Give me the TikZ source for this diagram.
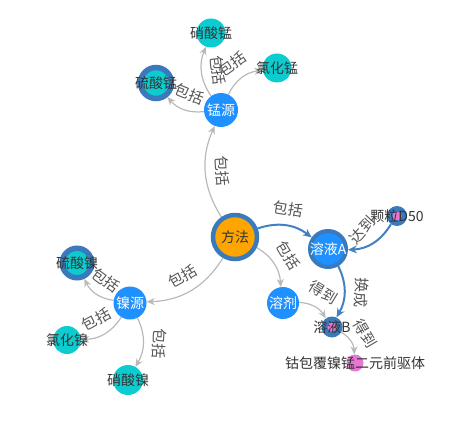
\documentclass[tikz,border=0pt]{standalone}
\usepackage{fontspec}
\setmainfont{Noto Sans CJK SC}
\usetikzlibrary{arrows.meta,backgrounds}
\definecolor{ringBlue}{RGB}{58,122,188}
\definecolor{nodeBlue}{RGB}{30,144,255}
\definecolor{nodeTeal}{RGB}{12,204,208}
\definecolor{nodePink}{RGB}{232,118,212}
\definecolor{nodeOrange}{RGB}{255,165,0}
\definecolor{edgeGray}{RGB}{185,185,185}
\definecolor{edgeBlue}{RGB}{66,128,194}
\definecolor{labelGray}{RGB}{85,85,85}

\begin{document}
\begin{tikzpicture}[x=1pt,y=1pt,
    txt/.style={font=\fontsize{14}{16}\selectfont,inner sep=0pt},
    wtext/.style={txt,text=white},
    dtext/.style={txt,text=black!80},
    bluedot/.style={circle,fill=nodeBlue,inner sep=0pt,minimum size=#1},
    tealdot/.style={circle,fill=nodeTeal,inner sep=0pt,minimum size=#1},
    pinkdot/.style={circle,fill=nodePink,inner sep=0pt,minimum size=#1},
    ringteal/.style={circle,fill=nodeTeal,draw=ringBlue,line width=5.5pt,inner sep=0pt,minimum size=#1},
    smalldot/.style={circle,fill=ringBlue,inner sep=0pt,minimum size=20pt,
      path picture={\fill[nodePink] (path picture bounding box.center) circle (4.5pt);}},
    hubnode/.style={circle,fill=nodeOrange,draw=ringBlue,line width=4.5pt,inner sep=0pt,minimum size=44pt},
    solnode/.style={circle,fill=nodeBlue,draw=ringBlue,line width=4pt,inner sep=0pt,minimum size=36pt},
    gedge/.style={edgeGray,line width=1.2pt,-{Stealth[length=8pt,width=7pt,inset=2.5pt]}},
    bedge/.style={edgeBlue,line width=2pt,-{Stealth[length=9pt,width=8pt,inset=3pt]}},
    elabel/.style={font=\fontsize{15}{17}\selectfont,inner sep=0pt,text=labelGray,midway,sloped,above=9pt}]
  \useasboundingbox (0,0) rectangle (462,-422);
  % centre
  \node[hubnode,label={[dtext]center:方法}] (method) at (235,-237) {};
  % manganese source
  \node[bluedot=34pt,label={[wtext]center:锰源}] (mnSrc) at (221,-110) {};
  \node[tealdot=29pt,label={[dtext]center:硝酸锰}] (mnNitrate) at (211,-33) {};
  \node[tealdot=29pt,label={[dtext]center:氯化锰}] (mnChloride) at (277,-68) {};
  \node[ringteal=31pt,label={[dtext]center:硫酸锰}] (mnSulfate) at (156,-83) {};
  % nickel source
  \node[bluedot=33pt,label={[wtext]center:镍源}] (niSrc) at (130,-303) {};
  \node[ringteal=29.5pt,label={[dtext]center:硫酸镍}] (niSulfate) at (77,-263) {};
  \node[tealdot=28pt,label={[dtext]center:氯化镍}] (niChloride) at (67,-340) {};
  \node[tealdot=30pt,label={[dtext]center:硝酸镍}] (niNitrate) at (128,-380) {};
  % solutions
  \node[solnode,label={[wtext]center:溶液A}] (solA) at (328,-249) {};
  \node[smalldot,label={[dtext]center:颗粒D50}] (d50) at (397,-216) {};
  \node[bluedot=32pt,label={[wtext]center:溶剂}] (solvent) at (283,-303) {};
  \node[smalldot,minimum size=21pt,label={[dtext]center:溶液B}] (solB) at (332,-327) {};
  \node[pinkdot=17pt,label={[dtext]center:钴包覆镍锰二元前驱体}] (product) at (355,-363) {};

  \begin{scope}[on background layer]
    \draw[gedge] (method) to[bend left=28] node[elabel] {包括} (mnSrc);
    \draw[gedge] (method) to[bend left=28] node[elabel] {包括} (niSrc);
    \draw[gedge] (method) to[bend left=28] node[elabel] {包括} (solvent);
    \draw[bedge] (method) to[bend left=28] node[elabel] {包括} (solA);
    \draw[gedge] (mnSrc) to[bend left=28] node[elabel] {包括} (mnSulfate);
    \draw[gedge] (mnSrc) to[bend left=28] node[elabel] {包括} (mnNitrate);
    \draw[gedge] (mnSrc) to[bend left=28] node[elabel] {包括} (mnChloride);
    \draw[gedge] (niSrc) to[bend left=28] node[elabel] {包括} (niSulfate);
    \draw[gedge] (niSrc) to[bend left=28] node[elabel] {包括} (niChloride);
    \draw[gedge] (niSrc) to[bend left=28] node[elabel,allow upside down] {包括} (niNitrate);
    \draw[bedge] (d50) to[bend left=28] node[elabel,rotate=17] {达到} (solA);
    \draw[bedge] (solA) to[bend left=28] node[elabel,allow upside down] {换成} (solB);
    \draw[gedge] (solvent) to[bend left=28] node[elabel] {得到} (solB);
    \draw[gedge] (solB) to[bend left=28] node[elabel] {得到} (product);
  \end{scope}
\end{tikzpicture}
\end{document}
